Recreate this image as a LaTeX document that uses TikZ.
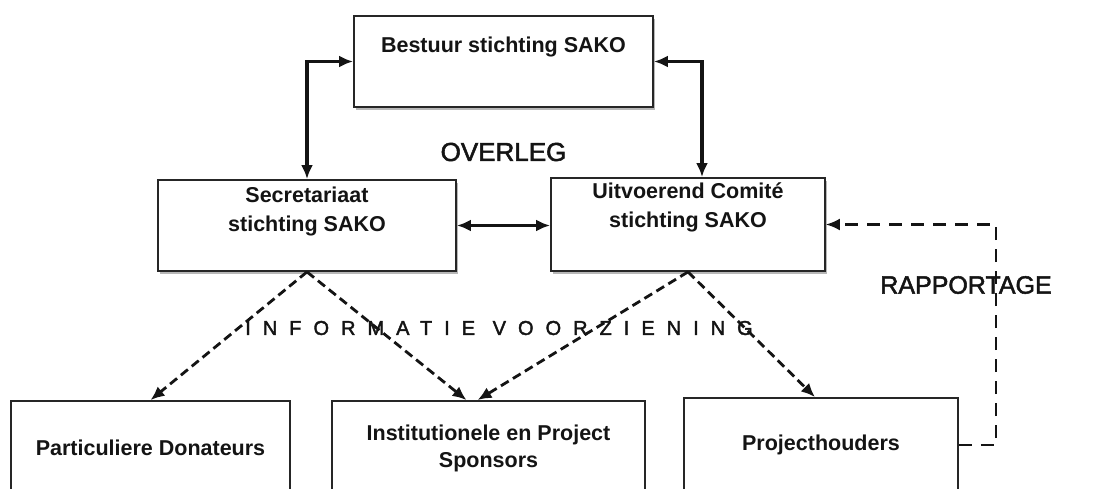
\documentclass[tikz,border=0pt]{standalone}
\usepackage{fontspec}
\setmainfont{Liberation Sans}
\newfontfamily\heavyreg{Liberation Sans}[FakeBold=2]
\newfontfamily\heavyspaced{Liberation Sans}[FakeBold=2,LetterSpace=60]
\usetikzlibrary{arrows.meta,shadows}
\begin{document}
\begin{tikzpicture}[x=1pt,y=-1pt,
  box/.style={draw=black!85, line width=1.8pt, fill=white, rectangle, inner sep=0pt},
  shbox/.style={box, drop shadow={shadow xshift=2pt, shadow yshift=-2.5pt, fill=black!40, opacity=0.7}},
  boxtext/.style={font=\fontsize{21.5}{29}\selectfont\bfseries, align=center, inner sep=0pt, text=black!92},
  biarrow/.style={line width=3.4pt, draw=black!92, {Latex[length=14pt,width=12pt]}-{Latex[length=14pt,width=12pt]}},
  info/.style={line width=2.8pt, draw=black!92, dash pattern=on 9pt off 5pt, -{Latex[length=14pt,width=12pt]}},
  rapp/.style={line width=2.2pt, draw=black!92, dash pattern=on 13pt off 9pt, -{Latex[length=14pt,width=12pt]}},
  bigtext/.style={inner sep=0pt, text=black!92}]
\clip (0,0) rectangle (1100,488);
\fill[white] (0,0) rectangle (1100,488);

% top row
\node[shbox, minimum width=299pt, minimum height=91pt,
  label={[boxtext, anchor=north, yshift=-21.5pt]north:Bestuur stichting SAKO}]
  (bestuur) at (503.5,61.5) {};
\node[shbox, minimum width=298pt, minimum height=91pt,
  label={[boxtext, anchor=north, yshift=-7.5pt]north:Secretariaat\\stichting SAKO}]
  (sec) at (307,225.5) {};
\node[shbox, minimum width=274pt, minimum height=93pt,
  label={[boxtext, anchor=north, yshift=-5pt]north:Uitvoerend Comité\\stichting SAKO}]
  (uit) at (688,224.5) {};

% bottom row
\node[box, minimum width=279pt, minimum height=94pt, boxtext] (part) at (150.5,448) {Particuliere Donateurs};
\node[box, minimum width=313pt, minimum height=94pt, boxtext, font=\fontsize{21.5}{27}\selectfont\bfseries] (inst) at (488.5,448) {Institutionele en Project\\Sponsors};
\node[box, minimum width=274pt, minimum height=94pt, boxtext] (proj) at (821,445) {Projecthouders};

% labels
\node[bigtext, font=\heavyreg\fontsize{26}{30}\selectfont] (overleg) at (503.5,152) {OVERLEG};
\node[bigtext, font=\heavyreg\fontsize{25}{30}\selectfont] (rapport) at (966,285) {RAPPORTAGE};
\node[bigtext, font=\heavyspaced\fontsize{20}{24}\selectfont] (info) at (499,328) {INFORMATIE VOORZIENING};

% solid connectors
\draw[biarrow] (bestuur.west) -| (sec.north);
\draw[biarrow] (bestuur.east) -| ([xshift=14pt]uit.north);
\draw[biarrow] (sec.east) -- (sec.east -| uit.west);

% dashed information arrows
\draw[info] (sec.south) -- (part.north);
\draw[info] (sec.south) -- ([xshift=-22pt]inst.north);
\draw[info] (uit.south) -- ([xshift=-11pt]inst.north);
\draw[info] (uit.south) -- ([xshift=-6pt]proj.north);

% rapportage
\coordinate (rp) at (996,0);
\draw[rapp] (proj.east) -- (proj.east -| rp) -- (uit.east -| rp) -- (uit.east);
\end{tikzpicture}
\end{document}
